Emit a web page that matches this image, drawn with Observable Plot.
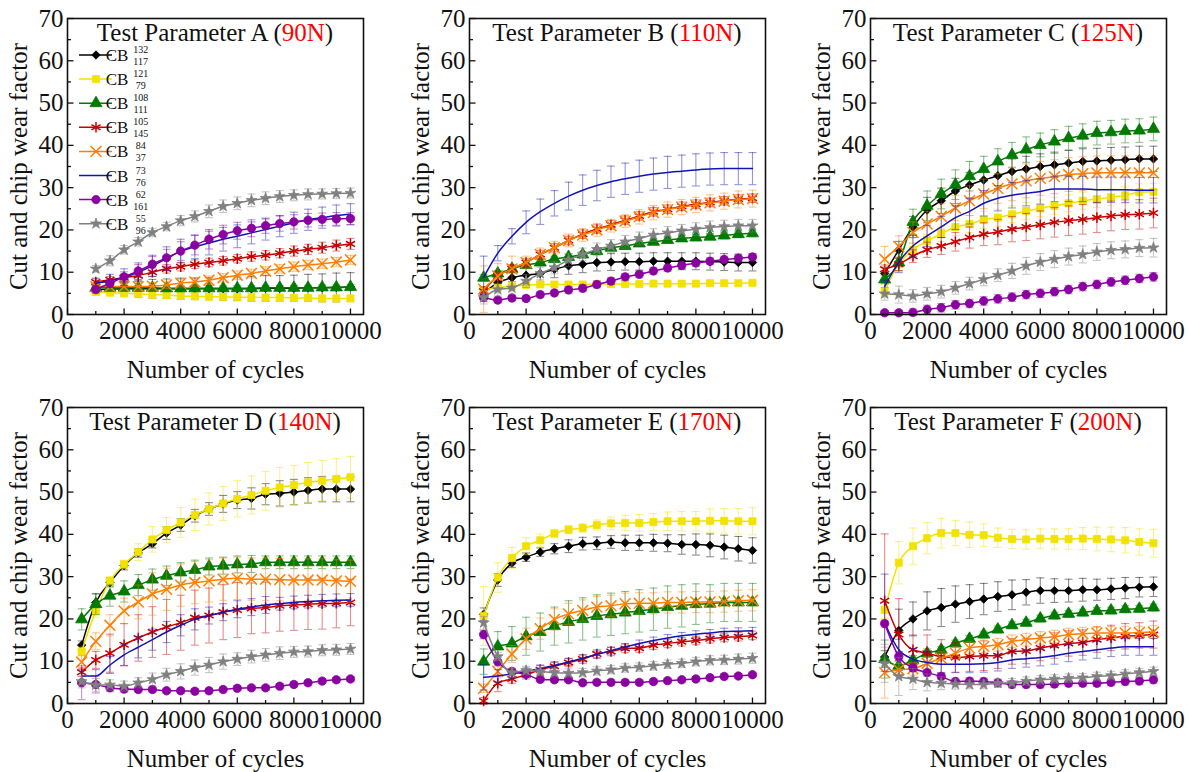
<!DOCTYPE html>
<html>
<head>
<meta charset="utf-8">
<script src="https://cdn.jsdelivr.net/npm/d3@7"></script>
<script src="https://cdn.jsdelivr.net/npm/@observablehq/plot@0.6"></script>
<style>
  html, body { margin: 0; padding: 0; background: #fff; }
  #wrap { position: relative; width: 1189px; height: 772px; overflow: hidden; background: #fff; }
  .panel { position: absolute; }
  #wrap svg { max-width: none !important; }
  #wrap svg text { font-family: "Liberation Serif", "Times New Roman", serif !important; }
</style>
</head>
<body>
<div id="wrap"></div>
<script>
// ---------- x values (number of cycles) ----------
const cyclesA = [1000,1500,2000,2500,3000,3500,4000,4500,5000,5500,6000,6500,7000,7500,8000,8500,9000,9500,10000];
const cycles  = [500,1000,1500,2000,2500,3000,3500,4000,4500,5000,5500,6000,6500,7000,7500,8000,8500,9000,9500,10000];

// ---------- series meta ----------
const seriesSup = ["132","121","108","105","84","73","62","55"];
const seriesSub = ["117","79","111","145","37","76","161","96"];
const seriesColors = ["#000000","#f2e200","#007a00","#c80000","#ff7f00","#1414b4","#8a00a0","#808080"];
const seriesSymbols = ["diamond2","square","triangle","asterisk","times",null,"circle","star"];

// ---------- panel meta ----------
const panelLetters = ["A","B","C","D","E","F"];
const panelLoads = ["90N","110N","125N","140N","170N","200N"];
const xTicks = [0,2000,4000,6000,8000,10000];
const yTicks = [0,10,20,30,40,50,60,70];

// ---------- Panel A (90N) ----------
const A_black  = [5.9,6.0,6.1,6.1,6.1,6.1,6.1,6.1,6.1,6.1,6.1,6.1,6.2,6.2,6.2,6.3,6.3,6.4,6.5];
const A_yellow = [5.3,5.2,5.0,4.9,4.7,4.6,4.4,4.3,4.2,4.2,4.1,4.1,4.0,4.0,3.9,3.9,3.8,3.8,3.8];
const A_green  = [6.3,6.3,6.3,6.3,6.3,6.2,6.2,6.2,6.2,6.2,6.2,6.2,6.3,6.3,6.3,6.3,6.4,6.4,6.5];
const A_red    = [7.7,8.2,8.7,9.2,10.0,10.8,11.3,11.9,12.3,12.7,13.2,13.7,14.0,14.5,15.0,15.4,15.8,16.3,16.7];
const A_orange = [6.6,6.6,6.6,6.6,6.7,7.0,7.4,7.7,8.1,8.7,9.3,9.7,10.3,10.8,11.3,11.7,12.0,12.4,12.9];
const A_blue   = [7.4,8.0,8.8,10.0,11.5,13.2,15.0,16.0,16.9,17.8,18.5,19.3,20.1,20.9,21.7,22.4,22.9,23.4,23.7];
const A_purple = [5.9,7.4,8.9,10.3,11.9,13.4,15.0,16.4,17.8,18.9,19.8,20.4,21.0,21.5,21.9,22.3,22.5,22.6,22.7];
const A_gray   = [10.8,12.7,15.3,17.2,19.4,20.8,22.2,23.2,24.4,25.6,26.3,27.0,27.5,27.9,28.2,28.4,28.5,28.6,28.7];
const eA_black  = [0.8,1.0,1.5,2.0,2.2,2.3,2.5,2.5,2.6,2.7,2.8,2.9,3.0,3.0,3.1,3.2,3.3,3.4,3.4];
const eA_yellow = [0.8,0.9,0.9,0.9,0.8,0.8,0.8,0.8,0.7,0.7,0.7,0.7,0.7,0.7,0.7,0.7,0.7,0.7,0.7];
const eA_green  = [0.6,0.6,0.6,0.6,0.6,0.6,0.6,0.6,0.6,0.6,0.6,0.6,0.6,0.6,0.6,0.6,0.6,0.6,0.6];
const eA_red    = [0.7,0.8,0.9,0.9,1.0,1.0,1.0,1.0,1.0,1.0,1.0,1.1,1.1,1.1,1.2,1.2,1.3,1.3,1.3];
const eA_orange = [0.8,0.8,0.8,0.9,0.9,0.9,0.9,1.0,1.0,1.0,1.0,1.0,1.0,1.0,1.1,1.1,1.1,1.1,1.1];
const eA_blue   = [1.2,1.5,2.0,2.2,2.5,2.8,2.8,2.8,2.8,2.8,2.7,2.6,2.5,2.5,2.5,2.5,2.5,2.5,2.5];
const eA_purple = [0.8,1.0,1.2,1.5,1.8,2.0,2.2,2.3,2.3,2.2,2.0,2.0,1.8,1.8,1.7,1.6,1.5,1.5,1.4];
const eA_gray   = [0.8,1.2,1.0,1.0,1.0,1.0,1.2,1.3,1.5,1.5,1.5,1.5,1.5,1.4,1.3,1.3,1.2,1.2,1.2];

// ---------- Panel B (110N) ----------
const B_black  = [5.1,7.5,8.7,9.3,9.7,10.7,11.5,11.9,12.3,12.4,12.5,12.5,12.6,12.6,12.6,12.6,12.5,12.4,12.3,12.3];
const B_yellow = [5.8,6.3,6.7,7.0,7.1,7.1,7.1,7.1,7.2,7.2,7.2,7.2,7.3,7.3,7.3,7.3,7.4,7.4,7.4,7.5];
const B_green  = [8.7,9.7,10.8,11.7,12.3,13.1,13.6,14.2,15.0,15.8,16.2,16.8,17.2,17.6,18.0,18.2,18.4,18.7,19.0,19.2];
const B_red    = [5.5,9.1,10.8,12.3,14.2,15.8,17.5,19.0,20.2,21.2,22.3,23.3,24.3,24.9,25.6,26.1,26.5,26.9,27.3,27.5];
const B_orange = [6.0,9.1,10.8,12.3,14.2,15.8,17.5,18.8,20.0,21.0,22.1,23.1,24.1,24.8,25.4,25.9,26.4,26.8,27.2,27.4];
const B_blue   = [8.8,14.5,18.5,21.8,24.3,26.3,28.0,29.4,30.5,31.4,32.1,32.7,33.2,33.6,33.9,34.2,34.4,34.5,34.5,34.5];
const B_purple = [4.0,3.4,3.9,3.8,4.7,5.1,5.8,6.2,7.1,7.9,8.9,9.5,10.3,11.0,11.6,12.2,12.6,13.0,13.3,13.6];
const B_gray   = [4.0,5.9,6.3,7.9,9.7,11.1,12.9,14.2,15.4,16.2,17.2,18.0,18.8,19.3,19.8,20.2,20.6,20.8,21.0,21.0];
const eB_black  = [1.5,1.5,1.5,1.8,2.0,2.0,2.0,2.0,2.0,2.0,2.0,2.0,2.0,2.0,2.0,2.0,2.0,2.0,2.0,2.0];
const eB_yellow = [0.6,0.5,0.5,0.5,0.5,0.5,0.5,0.5,0.5,0.5,0.5,0.5,0.5,0.5,0.5,0.5,0.5,0.5,0.5,0.5];
const eB_green  = [0.7,0.7,0.7,0.7,0.7,0.7,0.7,0.7,0.7,0.7,0.7,0.7,0.7,0.7,0.7,0.7,0.7,0.8,0.8,0.8];
const eB_red    = [1.0,1.0,1.0,1.0,1.0,1.0,1.0,1.0,1.0,1.0,1.0,1.0,1.0,1.0,1.0,1.0,1.0,1.0,1.0,1.0];
const eB_orange = [5.5,3.0,3.0,1.5,1.5,1.5,1.5,1.5,1.5,1.5,1.5,1.7,1.7,1.8,1.8,1.8,1.9,1.9,2.0,2.0];
const eB_blue   = [5.0,1.8,1.8,2.7,3.0,3.0,3.3,3.6,3.6,3.7,3.7,3.8,3.8,3.8,3.8,3.8,3.8,3.8,3.8,3.8];
const eB_purple = [0.8,0.7,0.7,0.7,0.7,0.7,0.8,0.8,0.8,0.8,0.8,0.8,0.8,0.8,0.8,0.8,0.8,0.8,0.8,0.8];
const eB_gray   = [1.5,1.5,1.5,1.5,1.5,1.5,1.5,1.5,1.5,1.5,1.5,1.5,1.5,1.5,1.5,1.5,1.5,1.5,1.5,1.5];

// ---------- Panel C (125N) ----------
const C_black  = [9.7,15.3,20.7,24.7,26.9,29.2,30.6,31.8,32.8,33.8,34.4,35.0,35.4,35.8,36.2,36.3,36.5,36.6,36.8,36.8];
const C_yellow = [5.5,11.9,15.3,17.4,19.1,20.7,21.4,22.4,22.9,23.7,24.5,25.1,25.7,26.3,26.9,27.3,27.7,28.2,28.9,29.0];
const C_green  = [8.3,12.3,21.9,25.7,28.5,30.7,32.7,34.4,36.2,37.7,39.0,40.1,40.9,41.7,42.3,42.9,43.1,43.4,43.5,43.9];
const C_red    = [10.7,11.9,13.8,15.3,16.2,17.2,18.2,19.0,19.5,20.2,20.7,21.2,21.8,22.2,22.5,22.9,23.3,23.6,23.7,24.0];
const C_orange = [13.1,16.1,19.4,21.4,23.2,25.2,26.9,28.5,29.8,30.9,31.6,32.2,32.6,33.1,33.3,33.5,33.5,33.5,33.5,33.5];
const C_blue   = [6.6,12.4,16.2,18.6,20.7,22.9,24.4,26.3,27.5,28.2,28.7,29.1,29.7,29.7,29.7,29.5,29.5,29.5,29.4,29.4];
const C_purple = [0.4,0.4,0.5,1.2,1.6,2.3,2.6,3.2,3.7,4.1,4.7,5.0,5.4,5.9,6.6,7.1,7.7,8.1,8.5,8.9];
const C_gray   = [4.9,4.7,4.4,4.9,5.4,6.3,7.3,8.3,9.3,10.3,11.5,12.4,13.1,13.7,14.2,14.8,15.2,15.4,15.7,15.8];
const eC_black  = [1.5,2.0,2.5,3.0,3.0,3.0,3.0,3.0,3.0,3.0,3.0,3.0,3.0,3.0,3.0,3.0,3.0,3.0,3.0,3.0];
const eC_yellow = [1.5,1.5,1.5,1.5,1.8,2.0,2.0,2.0,2.0,2.0,2.0,2.0,2.0,2.0,2.0,2.0,2.0,2.0,2.0,2.0];
const eC_green  = [1.0,2.0,3.0,3.5,3.5,3.5,3.5,3.0,3.0,3.0,3.0,2.8,2.8,2.8,2.8,2.8,2.8,2.8,2.8,2.8];
const eC_red    = [1.0,1.5,1.5,1.8,2.0,2.2,2.5,2.7,3.0,3.0,3.2,3.3,3.5,3.5,3.5,3.5,3.5,3.5,3.5,3.5];
const eC_orange = [3.0,2.5,2.5,3.0,3.0,3.0,3.5,3.5,3.5,4.0,4.0,4.0,4.0,4.0,4.0,4.0,4.0,4.0,4.0,4.0];
const eC_blue   = [1.5,2.5,2.5,2.5,2.5,2.8,3.0,3.0,3.0,3.0,3.0,3.0,3.0,3.0,3.0,3.0,3.0,3.0,3.0,3.0];
const eC_purple = [0.5,0.6,0.8,1.0,1.0,1.0,1.0,1.0,1.0,1.0,1.0,1.0,1.0,1.0,1.0,1.0,1.0,1.0,1.0,1.0];
const eC_gray   = [1.5,2.0,1.5,1.5,1.5,1.5,1.5,1.5,1.5,1.8,2.0,2.0,2.0,2.0,2.0,2.0,2.0,2.0,2.0,2.2];

// ---------- Panel D (140N) ----------
const D_black  = [13.8,23.9,28.6,32.6,35.6,37.8,40.3,42.2,44.4,46.0,47.2,48.1,48.5,49.5,49.7,50.0,50.4,50.7,50.7,50.7];
const D_yellow = [12.3,21.9,29.0,32.9,35.8,38.8,41.0,42.8,44.6,46.0,47.3,48.4,49.3,50.3,51.1,51.7,52.3,52.7,53.1,53.5];
const D_green  = [19.9,23.5,25.5,26.5,28.0,29.3,30.2,31.0,31.6,32.4,32.6,32.9,33.0,33.4,33.4,33.4,33.4,33.4,33.4,33.4];
const D_red    = [7.4,10.3,11.9,13.9,15.5,16.9,18.1,19.1,20.3,20.8,21.6,22.1,22.5,22.7,23.1,23.3,23.5,23.6,23.7,23.9];
const D_orange = [9.8,14.7,18.5,21.9,24.0,25.9,27.0,28.0,28.6,29.0,29.4,29.6,29.4,29.4,29.3,29.2,29.2,29.2,29.0,28.9];
const D_blue   = [6.5,6.5,9.1,11.5,13.3,15.1,16.9,18.5,19.9,20.8,21.6,22.3,22.8,23.3,23.6,23.9,24.1,24.3,24.4,24.5];
const D_purple = [4.9,4.5,3.7,3.4,3.3,3.3,3.0,3.0,2.9,3.0,3.3,3.6,3.7,3.7,4.1,4.5,4.9,5.3,5.6,5.8];
const D_gray   = [5.2,4.4,4.4,4.1,4.9,5.7,6.8,7.6,8.5,9.1,9.9,10.5,11.1,11.5,11.9,12.2,12.3,12.6,12.7,12.9];
const eD_black  = [1.0,2.0,1.0,1.0,1.0,1.0,1.5,1.5,1.5,1.5,2.0,2.0,2.5,2.5,3.0,3.0,3.0,3.0,3.0,3.0];
const eD_yellow = [1.0,1.5,1.0,1.0,2.0,3.0,3.0,3.5,3.7,3.8,4.0,4.3,4.5,4.6,4.7,4.6,4.7,4.8,4.8,4.9];
const eD_green  = [2.5,2.5,2.5,2.5,2.5,2.5,2.3,2.3,2.3,2.0,2.0,2.0,2.0,1.5,1.5,1.5,1.5,1.5,1.5,1.5];
const eD_red    = [1.0,2.0,4.5,5.0,5.5,6.0,6.5,6.5,6.5,6.5,6.5,6.5,6.0,6.0,6.0,6.0,6.0,6.0,5.8,5.5];
const eD_orange = [1.5,2.0,2.5,3.0,4.0,5.0,5.0,5.0,5.0,5.0,5.0,5.0,5.0,5.0,5.0,5.0,5.0,5.0,5.0,5.0];
const eD_blue   = [1.5,1.5,2.0,2.5,2.5,2.5,2.5,2.5,2.5,2.0,2.0,2.0,2.0,2.0,1.5,1.5,1.5,1.5,1.5,1.5];
const eD_purple = [4.0,2.0,0.8,0.7,0.6,0.6,0.6,0.6,0.6,0.6,0.6,0.6,0.6,0.6,0.6,0.6,0.6,0.6,0.6,0.6];
const eD_gray   = [1.5,1.5,1.2,1.2,1.2,1.5,1.5,1.8,1.8,1.8,1.8,1.5,1.5,1.5,1.5,1.3,1.3,1.3,1.3,1.3];

// ---------- Panel E (170N) ----------
const E_black  = [21.1,29.2,33.2,34.6,35.8,36.6,37.2,37.8,37.9,38.2,38.0,38.0,38.0,37.9,37.6,37.6,37.4,37.0,36.6,36.2];
const E_yellow = [20.7,29.8,34.4,37.2,38.6,40.2,41.1,41.5,42.2,42.6,42.7,42.7,42.9,43.1,43.1,43.1,43.2,43.2,43.1,43.1];
const E_green  = [9.9,13.5,14.2,15.9,16.9,18.3,19.3,20.0,20.7,21.1,21.5,21.9,22.3,22.8,23.1,23.5,23.6,23.9,23.9,23.9];
const E_red    = [0.6,4.8,5.8,6.8,8.0,8.8,9.7,10.5,11.7,12.3,13.0,13.1,13.8,14.2,14.6,14.9,15.3,15.6,15.8,16.1];
const E_orange = [3.6,7.6,11.7,15.3,17.7,19.9,21.2,22.0,22.8,23.1,23.6,23.7,23.7,23.9,23.9,24.0,24.0,24.1,24.3,24.4];
const E_blue   = [6.2,6.5,7.0,7.6,8.3,9.0,9.8,10.7,11.6,12.5,13.4,14.2,14.9,15.5,16.0,16.4,16.7,17.0,17.1,17.2];
const E_purple = [16.3,9.9,7.6,6.9,5.7,5.6,5.6,4.9,5.0,5.0,5.0,5.0,5.2,5.4,5.6,5.8,6.1,6.4,6.5,6.8];
const E_gray   = [19.1,11.1,7.3,7.8,7.6,7.3,7.2,7.3,7.7,8.0,8.4,8.6,8.9,9.3,9.5,9.9,10.2,10.3,10.5,10.7];
const eE_black  = [1.5,1.5,1.0,1.0,1.0,1.2,1.5,1.5,1.5,1.5,1.8,1.8,2.0,2.0,2.3,2.5,2.7,2.8,2.9,3.0];
const eE_yellow = [7.0,3.5,2.5,2.0,1.5,1.0,1.0,1.0,1.2,1.5,1.8,2.0,2.0,2.2,2.3,2.3,2.8,2.9,3.0,3.2];
const eE_green  = [3.0,3.5,4.0,4.5,4.5,4.5,5.0,5.0,5.0,5.0,5.0,5.0,5.0,5.0,5.0,4.8,4.5,4.5,4.5,4.5];
const eE_red    = [0.8,2.0,1.0,1.0,1.0,1.0,1.0,1.0,1.0,1.0,1.0,1.0,1.0,1.0,1.0,1.0,1.0,1.0,1.0,1.0];
const eE_orange = [1.0,1.5,2.0,2.5,2.5,2.5,2.5,2.5,2.5,2.5,2.5,2.5,2.5,2.5,2.5,2.5,2.5,2.5,2.5,2.5];
const eE_blue   = [3.0,1.5,1.0,0.8,0.8,0.8,0.8,0.8,0.8,0.8,0.8,0.8,0.8,0.8,0.8,0.8,0.8,0.8,0.8,0.8];
const eE_purple = [1.0,1.0,0.7,0.6,0.6,0.6,0.6,0.6,0.6,0.6,0.6,0.6,0.6,0.6,0.6,0.6,0.6,0.6,0.6,0.6];
const eE_gray   = [1.5,1.0,1.0,1.0,1.0,1.0,1.0,1.0,1.0,1.0,1.0,1.0,1.0,1.0,1.0,1.0,1.1,1.1,1.2,1.2];

// ---------- Panel F (200N) ----------
const F_black  = [11.0,17.3,20.0,21.9,22.7,23.5,24.1,24.7,25.3,25.7,26.3,26.7,26.7,26.7,26.9,26.9,27.1,27.3,27.5,27.6];
const F_yellow = [22.1,33.3,37.2,39.1,40.3,40.3,39.9,39.8,39.2,38.9,38.8,39.0,38.9,38.9,39.0,38.9,38.8,38.6,38.2,37.9];
const F_green  = [10.5,8.9,10.3,11.9,12.7,14.2,15.3,16.3,17.5,18.5,19.1,20.1,20.8,21.2,21.5,21.9,22.0,22.3,22.4,22.7];
const F_red    = [24.3,16.3,12.7,11.9,11.1,10.9,11.1,11.3,11.3,12.3,12.4,13.1,13.7,14.2,14.4,15.1,15.5,15.9,16.1,16.3];
const F_orange = [7.3,8.0,8.2,9.5,10.7,11.9,13.1,13.5,13.9,14.7,15.1,15.5,15.8,16.3,16.5,16.7,16.7,16.7,16.8,16.9];
const F_blue   = [19.1,12.7,10.5,9.7,9.3,9.3,9.3,9.4,9.7,10.3,10.6,10.9,11.3,11.9,12.3,12.7,13.1,13.4,13.4,13.4];
const F_purple = [18.9,11.1,8.4,7.3,6.4,5.2,5.3,5.2,4.9,4.5,4.5,4.5,4.6,4.8,4.8,4.8,5.0,5.2,5.3,5.6];
const F_gray   = [9.5,6.4,5.8,5.0,4.8,4.6,4.5,4.5,4.8,4.9,5.3,5.6,5.8,6.0,6.1,6.4,6.6,7.0,7.3,7.6];
const eF_black  = [1.5,5.0,4.0,4.5,4.5,4.3,4.0,3.7,3.5,3.5,3.0,3.0,2.8,2.7,2.7,2.5,2.5,2.5,2.3,2.3];
const eF_yellow = [2.0,5.0,4.3,3.7,3.5,3.0,3.0,2.7,2.3,2.3,2.3,2.3,2.4,2.4,2.6,2.8,2.9,3.0,3.1,3.3];
const eF_green  = [4.5,1.0,1.0,1.0,0.8,0.8,0.8,0.8,0.8,0.8,0.8,0.8,0.8,0.8,0.8,0.8,0.8,0.8,0.8,0.8];
const eF_red    = [15.8,8.5,3.5,4.3,4.0,3.5,3.5,3.5,3.0,3.0,3.0,3.0,3.0,3.0,3.0,3.0,3.0,3.0,3.0,3.2];
const eF_orange = [6.0,1.5,1.5,1.5,1.5,1.5,1.5,1.5,1.5,1.5,1.5,1.5,1.5,1.5,1.5,1.5,1.5,1.5,1.5,1.5];
const eF_blue   = [11.5,2.5,2.5,2.5,2.0,2.0,2.0,2.0,2.0,2.0,2.0,2.0,2.0,2.0,2.0,2.0,2.0,2.0,2.0,2.0];
const eF_purple = [0.8,0.8,0.8,0.8,0.8,0.8,0.8,0.8,0.8,0.8,0.8,0.8,0.8,0.8,0.8,0.8,0.8,0.8,0.8,0.8];
const eF_gray   = [4.5,4.5,2.5,2.0,1.5,1.2,1.0,1.0,1.0,1.0,1.0,1.0,1.0,1.0,1.0,1.0,1.0,1.0,1.0,1.0];

// ---------- assemble ----------
const panelX = [cyclesA, cycles, cycles, cycles, cycles, cycles];
const panelY = [
  [A_black,A_yellow,A_green,A_red,A_orange,A_blue,A_purple,A_gray],
  [B_black,B_yellow,B_green,B_red,B_orange,B_blue,B_purple,B_gray],
  [C_black,C_yellow,C_green,C_red,C_orange,C_blue,C_purple,C_gray],
  [D_black,D_yellow,D_green,D_red,D_orange,D_blue,D_purple,D_gray],
  [E_black,E_yellow,E_green,E_red,E_orange,E_blue,E_purple,E_gray],
  [F_black,F_yellow,F_green,F_red,F_orange,F_blue,F_purple,F_gray]
];
const panelE = [
  [eA_black,eA_yellow,eA_green,eA_red,eA_orange,eA_blue,eA_purple,eA_gray],
  [eB_black,eB_yellow,eB_green,eB_red,eB_orange,eB_blue,eB_purple,eB_gray],
  [eC_black,eC_yellow,eC_green,eC_red,eC_orange,eC_blue,eC_purple,eC_gray],
  [eD_black,eD_yellow,eD_green,eD_red,eD_orange,eD_blue,eD_purple,eD_gray],
  [eE_black,eE_yellow,eE_green,eE_red,eE_orange,eE_blue,eE_purple,eE_gray],
  [eF_black,eF_yellow,eF_green,eF_red,eF_orange,eF_blue,eF_purple,eF_gray]
];

// ---------- layout ----------
const FONT = "Liberation Serif";
const colLeft = [0, 402, 803];
const rowTop = [0, 389];
const mL = 67, mR = 30, mT = 18, mB = 70, plotW = 296, plotH = 296;
const W = mL + plotW + mR, H = mT + plotH + mB;

// custom symbols (pixel-sized strokes)
const capSym = {draw(ctx){ ctx.moveTo(-4,0); ctx.lineTo(4,0); }};
const tickUpMaj = {draw(ctx){ ctx.moveTo(0,0); ctx.lineTo(0,-6); }};
const tickUpMin = {draw(ctx){ ctx.moveTo(0,0); ctx.lineTo(0,-3.5); }};
const tickRtMaj = {draw(ctx){ ctx.moveTo(0,0); ctx.lineTo(6,0); }};
const tickRtMin = {draw(ctx){ ctx.moveTo(0,0); ctx.lineTo(3.5,0); }};
const xMinor = [1000,3000,5000,7000,9000];
const yMinor = [5,15,25,35,45,55,65];

function symRadius(sym) {
  return {diamond2: 3.8, square: 4.0, triangle: 4.5, asterisk: 5, times: 5, circle: 4.2, star: 3.4}[sym];
}
const strokeSyms = new Set(["asterisk", "times"]);

function seriesMarks(rows, s) {
  const c = seriesColors[s];
  const marks = [
    Plot.ruleX(rows, {x: "x", y1: d => d.y - d.e, y2: d => d.y + d.e, stroke: c, strokeOpacity: 0.45, strokeWidth: 1.1}),
    Plot.dot(rows, {x: "x", y: d => d.y + d.e, symbol: capSym, fill: "none", stroke: c, strokeOpacity: 0.45, strokeWidth: 1.1}),
    Plot.dot(rows, {x: "x", y: d => d.y - d.e, symbol: capSym, fill: "none", stroke: c, strokeOpacity: 0.45, strokeWidth: 1.1}),
    Plot.line(rows, {x: "x", y: "y", stroke: c, strokeWidth: 1.5, curve: "monotone-x"})
  ];
  const sym = seriesSymbols[s];
  if (sym && strokeSyms.has(sym)) {
    marks.push(Plot.dot(rows, {x: "x", y: "y", symbol: sym, r: symRadius(sym), fill: "none", stroke: c, strokeWidth: 1.5}));
  } else if (sym) {
    marks.push(Plot.dot(rows, {x: "x", y: "y", symbol: sym, r: symRadius(sym), fill: c, stroke: c, strokeWidth: 0.8}));
  }
  return marks;
}

const wrap = document.getElementById("wrap");
const d3SymMap = {diamond2: d3.symbolDiamond2, square: d3.symbolSquare, triangle: d3.symbolTriangle,
                  asterisk: d3.symbolAsterisk, times: d3.symbolTimes, circle: d3.symbolCircle, star: d3.symbolStar};

panelLetters.forEach((letter, p) => {
  const xs = panelX[p];
  const marks = [];
  for (let s = 0; s < 8; s++) {
    const rows = xs.map((x, i) => ({x, y: panelY[p][s][i], e: panelE[p][s][i]}));
    marks.push(...seriesMarks(rows, s));
  }
  const chart = Plot.plot({
    width: W, height: H,
    marginLeft: mL, marginRight: mR, marginTop: mT, marginBottom: mB,
    style: {fontFamily: FONT, fontSize: "25px", color: "#111", background: "transparent", overflow: "visible"},
    x: {domain: [0, 10460]},
    y: {domain: [0, 70]},
    marks: [
      Plot.axisX({ticks: xTicks, tickSize: 0, tickPadding: 7, tickFormat: d => String(d), fontSize: 25,
                  label: "Number of cycles", labelAnchor: "center", labelArrow: "none", labelOffset: 63}),
      Plot.axisY({ticks: yTicks, tickSize: 0, tickPadding: 4, tickFormat: d => String(d), fontSize: 25,
                  label: "Cut and chip wear factor", labelAnchor: "center", labelArrow: "none", labelOffset: 58}),
      ...marks,
      Plot.dot(xTicks, {x: d => d, y: () => 0, symbol: tickUpMaj, fill: "none", stroke: "#111", strokeWidth: 1.3}),
      Plot.dot(xMinor, {x: d => d, y: () => 0, symbol: tickUpMin, fill: "none", stroke: "#111", strokeWidth: 1.3}),
      Plot.dot(yTicks, {x: () => 0, y: d => d, symbol: tickRtMaj, fill: "none", stroke: "#111", strokeWidth: 1.3}),
      Plot.dot(yMinor, {x: () => 0, y: d => d, symbol: tickRtMin, fill: "none", stroke: "#111", strokeWidth: 1.3}),
      Plot.frame({stroke: "#111", strokeWidth: 1.6})
    ]
  });
  chart.style.maxWidth = "none";
  const div = document.createElement("div");
  div.className = "panel";
  div.style.left = colLeft[p % 3] + "px";
  div.style.top = rowTop[Math.floor(p / 3)] + "px";
  div.style.width = W + "px";
  div.style.height = H + "px";
  div.appendChild(chart);
  wrap.appendChild(div);

  const svg = d3.select(chart);
  // panel title with red load
  const t = svg.append("text")
    .attr("x", mL + plotW / 2).attr("y", mT + 23)
    .attr("text-anchor", "middle")
    .style("font-size", "25px").attr("fill", "#111");
  t.append("tspan").text("Test Parameter " + letter + " (");
  t.append("tspan").attr("fill", "#ff0000").text(panelLoads[p]);
  t.append("tspan").text(")");

  // legend in panel A
  if (p === 0) {
    const lg = svg.append("g");
    for (let s = 0; s < 8; s++) {
      const cy = 55 + s * 24.1;
      const c = seriesColors[s];
      const g = lg.append("g").attr("transform", `translate(0,${cy})`);
      g.append("line").attr("x1", 79).attr("x2", 112).attr("y1", 0).attr("y2", 0)
        .attr("stroke", c).attr("stroke-width", 1.5);
      const sym = seriesSymbols[s];
      if (sym) {
        const stroked = strokeSyms.has(sym);
        const rr = symRadius(sym);
        g.append("path").attr("transform", "translate(96,0)")
          .attr("d", d3.symbol(d3SymMap[sym], rr * rr * Math.PI)())
          .attr("fill", stroked ? "none" : c).attr("stroke", c).attr("stroke-width", stroked ? 1.5 : 0.8);
      }
      const cb = g.append("text").attr("x", 117).attr("y", 6).style("font-size", "17px").attr("fill", "#111").text("CB");
      const w = cb.node().getComputedTextLength();
      g.append("text").attr("x", 117 + w + 1).attr("y", -2).style("font-size", "10px").attr("fill", "#111").text(seriesSup[s]);
      g.append("text").attr("x", 117 + w + 1).attr("y", 10).style("font-size", "10px").attr("fill", "#111").text(seriesSub[s]);
    }
  }
});
</script>
</body>
</html>
